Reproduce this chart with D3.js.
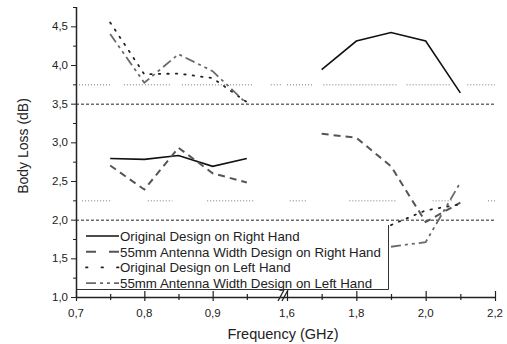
<!doctype html>
<html>
<head>
	<title>Body Loss</title>
	<meta charset="UTF-8">
	<script src="https://d3js.org/d3.v7.min.js"></script>
	<style>
		body { margin: 0; background: #fff; }
		text { font-family: "Liberation Sans", Arial, sans-serif; fill: #222; }
	</style>
</head>
<body>
	<script>

		// frequencies (GHz) for the two bands
		var freqLow = [0.75, 0.8, 0.85, 0.9, 0.95];
		var freqHigh = [1.7, 1.8, 1.9, 2.0, 2.1];
		var freqHighShort = [1.9, 2.0, 2.1];

		// body loss values (dB)
		var origRightLow = [2.79, 2.78, 2.83, 2.69, 2.79];
		var origRightHigh = [3.94, 4.31, 4.42, 4.31, 3.64];
		var w55RightLow = [2.70, 2.39, 2.93, 2.60, 2.48];
		var w55RightHigh = [3.11, 3.06, 2.69, 1.97, 2.22];
		var origLeftLow = [4.55, 3.88, 3.89, 3.83, 3.52];
		var origLeftHigh = [1.93, 2.12, 2.20];
		var w55LeftLow = [4.40, 3.77, 4.14, 3.92, 3.50];
		var w55LeftHigh = [1.65, 1.71, 2.48];

		var seriesNames = [
			"Original Design on Right Hand",
			"55mm Antenna Width Design on Right Hand",
			"Original Design on Left Hand",
			"55mm Antenna Width Design on Left Hand"
		];

		// tick labels
		var xTicksLow = [0.7, 0.8, 0.9];
		var xTicksHigh = [1.6, 1.8, 2.0, 2.2];
		var xMinorLow = [0.75, 0.85, 0.95];
		var xMinorHigh = [1.7, 1.9, 2.1];
		var yTicks = [1.0, 1.5, 2.0, 2.5, 3.0, 3.5, 4.0, 4.5];
		var yMinor = [1.25, 1.75, 2.25, 2.75, 3.25, 3.75, 4.25, 4.75];

		// reference lines
		var dashedRefs = [3.5, 2.0];
		var dottedRefs = [3.75, 2.25];
		// visible pieces of the dotted lines [from, to] in GHz
		var dottedPieces = [
			[[0.70, 0.75], [0.77, 0.84], [0.855, 0.96], [0.985, 1.0], [1.6, 1.675], [1.705, 1.92], [1.945, 2.07], [2.12, 2.2]],
			[[0.709, 0.753], [0.805, 0.841], [0.892, 0.96], [1.608, 1.66], [1.78, 1.915], [2.02, 2.08], [2.18, 2.2]]
		];

		// line styles for each series
		var styles = [
			{color: "#111", width: 1.6, dash: null, legendDash: null},
			{color: "#555", width: 2, dash: "7,5", legendDash: "10,13"},
			{color: "#222", width: 1.8, dash: "1.5,7", legendDash: "1.5,14"},
			{color: "#6a6a6a", width: 1.8, dash: "10,4,3,4,3,4", legendDash: "10,4,3,4,3,4"}
		];

		var W = 507, H = 344;

		var svg = d3.select("body")
					.append("svg")
						.attr("width", W)
						.attr("height", H);

		// broken x axis: two linear pieces
		var xLow = d3.scaleLinear().domain([0.7, 1.0]).range([76, 281]);
		var xHigh = d3.scaleLinear().domain([1.6, 2.2]).range([287, 495]);
		function x(f) { return f < 1.3 ? xLow(f) : xHigh(f); }

		var y = d3.scaleLinear().domain([1.0, 4.75]).range([297, 7]);

		var line = d3.line()
						.x(function(d) { return x(d[0]); })
						.y(function(d) { return y(d[1]); });

		//Dotted reference lines
		dottedRefs.forEach(function(v, i) {
			svg.append("g").selectAll("line")
				.data(dottedPieces[i])
				.enter()
				.append("line")
					.attr("x1", function(d) { return x(d[0]); })
					.attr("x2", function(d) { return x(d[1]); })
					.attr("y1", y(v) + 0.5)
					.attr("y2", y(v) + 0.5)
					.attr("stroke", "#777")
					.attr("stroke-width", 1)
					.attr("stroke-dasharray", "1,2");
		});

		//Dashed reference lines
		svg.append("g").selectAll("line")
			.data(dashedRefs)
			.enter()
			.append("line")
				.attr("x1", x(0.7))
				.attr("x2", x(2.2))
				.attr("y1", function(d) { return y(d) + 0.5; })
				.attr("y2", function(d) { return y(d) + 0.5; })
				.attr("stroke", "#222")
				.attr("stroke-width", 1)
				.attr("stroke-dasharray", "3,2");

		//Series
		var series = [
			[[freqLow, origRightLow], [freqHigh, origRightHigh]],
			[[freqLow, w55RightLow], [freqHigh, w55RightHigh]],
			[[freqLow, origLeftLow], [freqHighShort, origLeftHigh]],
			[[freqLow, w55LeftLow], [freqHighShort, w55LeftHigh]]
		];

		series.forEach(function(s, i) {
			s.forEach(function(part) {
				var pts = part[0].map(function(f, j) { return [f, part[1][j]]; });
				svg.append("path")
					.datum(pts)
					.attr("d", line)
					.attr("fill", "none")
					.attr("stroke", styles[i].color)
					.attr("stroke-width", styles[i].width)
					.attr("stroke-dasharray", styles[i].dash)
					.attr("stroke-linecap", i == 2 ? "round" : "butt");
			});
		});

		//Legend
		var legend = svg.append("g");
		legend.append("line")
			.attr("x1", 76).attr("x2", 388.5)
			.attr("y1", 289.5).attr("y2", 289.5)
			.attr("stroke", "#333");
		legend.append("line")
			.attr("x1", 388.5).attr("x2", 388.5)
			.attr("y1", 225).attr("y2", 289.5)
			.attr("stroke", "#333");

		seriesNames.forEach(function(name, i) {
			var ly = 236 + i * 15.7;
			legend.append("line")
				.attr("x1", 86).attr("x2", 119)
				.attr("y1", ly).attr("y2", ly)
				.attr("stroke", styles[i].color)
				.attr("stroke-width", styles[i].width)
				.attr("stroke-dasharray", styles[i].legendDash)
				.attr("stroke-linecap", i == 2 ? "round" : "butt");
			legend.append("text")
				.attr("x", 120)
				.attr("y", ly + 4.8)
				.attr("font-size", 13.3)
				.text(name);
		});

		//Axes
		var axes = svg.append("g").attr("stroke", "#222");
		axes.append("line")
			.attr("x1", 76.5).attr("x2", 76.5)
			.attr("y1", 7).attr("y2", 297.5)
			.attr("stroke-width", 1.5);
		axes.append("line")
			.attr("x1", 76).attr("x2", 495)
			.attr("y1", 297.5).attr("y2", 297.5)
			.attr("stroke-width", 1.5);

		// y ticks
		axes.selectAll(".ymaj").data(yTicks).enter().append("line")
			.attr("x1", 71).attr("x2", 76)
			.attr("y1", function(d) { return y(d) + 0.5; })
			.attr("y2", function(d) { return y(d) + 0.5; });
		axes.selectAll(".ymin").data(yMinor).enter().append("line")
			.attr("x1", 73).attr("x2", 76)
			.attr("y1", function(d) { return y(d) + 0.5; })
			.attr("y2", function(d) { return y(d) + 0.5; });

		// x ticks
		axes.selectAll(".xmaj").data(xTicksLow.concat(xTicksHigh)).enter().append("line")
			.attr("x1", function(d) { return x(d) + 0.5; })
			.attr("x2", function(d) { return x(d) + 0.5; })
			.attr("y1", 291).attr("y2", 301)
			.attr("stroke-width", 1.2);
		axes.selectAll(".xmin").data(xMinorLow.concat(xMinorHigh)).enter().append("line")
			.attr("x1", function(d) { return x(d) + 0.5; })
			.attr("x2", function(d) { return x(d) + 0.5; })
			.attr("y1", 294).attr("y2", 300)
			.attr("stroke-width", 1.2);

		// axis break mark
		[0, 4].forEach(function(off) {
			axes.append("line")
				.attr("x1", 278 + off).attr("y1", 301)
				.attr("x2", 284 + off).attr("y2", 290)
				.attr("stroke-width", 1.3);
		});

		var fmt = function(d) { return d3.format(".1f")(d).replace(".", ","); };

		svg.append("g").selectAll("text")
			.data(yTicks)
			.enter()
			.append("text")
				.attr("x", 68)
				.attr("y", function(d) { return y(d) + 4; })
				.attr("font-size", 11.5)
				.style("text-anchor", "end")
				.text(fmt);

		svg.append("g").selectAll("text")
			.data(xTicksLow.concat(xTicksHigh))
			.enter()
			.append("text")
				.attr("x", function(d) { return x(d); })
				.attr("y", 317)
				.attr("font-size", 11.5)
				.style("text-anchor", "middle")
				.text(fmt);

		//Axis titles
		svg.append("text")
			.attr("x", 283)
			.attr("y", 339)
			.attr("font-size", 14.5)
			.style("text-anchor", "middle")
			.text("Frequency (GHz)");

		svg.append("text")
			.attr("transform", "translate(28, 146) rotate(-90)")
			.attr("font-size", 14)
			.style("text-anchor", "middle")
			.text("Body Loss (dB)");

	</script>
</body>
</html>
